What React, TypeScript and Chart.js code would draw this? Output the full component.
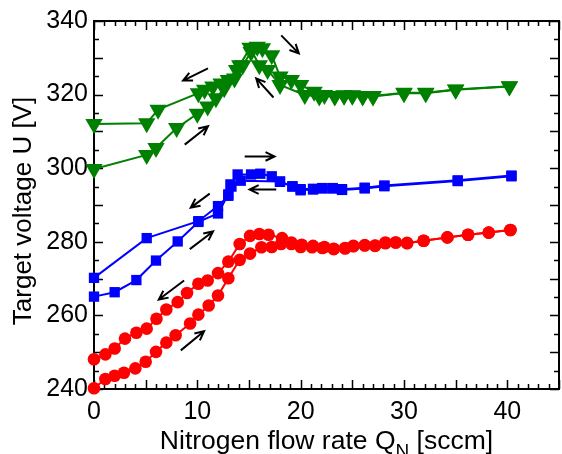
import React, { useEffect, useRef } from "react";
import { Chart, registerables } from "chart.js";
Chart.register(...registerables);

const xTicks = [0, 10, 20, 30, 40];
const yTicks = [240, 260, 280, 300, 320, 340];

const redUpX = [0, 1.1, 2, 2.9, 4, 5, 6, 7, 7.9, 9.3, 10.1, 11.1, 12, 13, 14.1, 15.1, 16.2, 17.2, 18.1, 19.1, 20, 21.1, 22.1, 23.2, 24.3, 25.1, 26.2, 27.2, 28.2, 29.2, 30.3, 31.9, 34.2, 36.2, 38.2, 40.3];
const redUpY = [240.2, 242.7, 243.6, 244.4, 245.6, 247.4, 250.1, 252.6, 254.6, 257.8, 260.2, 262.7, 265.4, 270.1, 275.1, 276.8, 278.5, 278.6, 279.4, 279.4, 278.6, 278.5, 278.3, 278.0, 278.2, 278.9, 279.1, 278.9, 279.8, 279.8, 279.6, 280.3, 281.2, 281.9, 282.5, 283.2];
const redDownX = [40.3, 38.2, 36.2, 34.2, 31.9, 30.3, 29.2, 28.2, 27.2, 26.2, 25.1, 24.3, 23.2, 22.3, 21.2, 20.1, 19.1, 18.2, 16.9, 16.0, 15.1, 14.1, 13.0, 12.0, 11.0, 10.1, 9.0, 8.1, 7.0, 6.05, 5.1, 4.1, 3.0, 2.0, 1.1, 0];
const redDownY = [283.2, 282.5, 281.9, 281.2, 280.3, 279.7, 279.8, 279.6, 279.0, 279.0, 278.8, 278.3, 278.1, 278.6, 278.9, 279.2, 279.8, 281.0, 281.9, 282.1, 281.6, 279.4, 274.6, 271.5, 269.5, 268.6, 266.1, 263.6, 261.6, 259.1, 256.4, 255.3, 253.7, 251.0, 249.4, 248.1];

const blueUpX = [0, 2, 4.1, 6, 8.1, 10.1, 12, 13, 13.2, 13.9, 15.2, 16.1, 17.2, 18, 19.2, 20, 21.2, 22.1, 23.1, 24, 26.2, 28.1, 35.2, 40.4];
const blueUpY = [265.1, 266.3, 269.6, 274.9, 280.1, 285.4, 287.7, 292.9, 295.6, 298.3, 298.3, 298.5, 297.8, 296.3, 295.1, 294.0, 294.2, 294.5, 294.5, 294.1, 294.5, 295.1, 296.5, 297.8];
const blueDownX = [40.4, 35.2, 28.1, 26.2, 24, 23.1, 22.1, 21.2, 20, 19.2, 18, 14.2, 13.3, 13, 12, 10.1, 5.1, 0];
const blueDownY = [298.0, 296.7, 295.3, 294.7, 294.3, 294.6, 294.6, 294.4, 294.3, 295.0, 296.4, 296.6, 295.0, 292.5, 289.7, 285.6, 281.0, 270.2];

const greenUpX = [0, 5.1, 6, 8, 10, 11, 11.8, 12.6, 13.6, 14.4, 15.2, 15.8, 16.3, 17.2, 18, 19.1, 20, 21.3, 22.3, 23.3, 24.2, 25, 26, 27, 30, 32.1, 35, 40.2];
const greenUpY = [299.8, 303.6, 305.5, 310.9, 314.8, 316.8, 319, 321.7, 324.4, 328, 331.6, 333, 332.6, 330.7, 324.9, 324, 322.6, 320.8, 319.9, 319.5, 319.7, 319.7, 319.5, 319.5, 320.4, 320.4, 321.3, 322.2];
const greenDownX = [40.2, 35, 32.1, 30, 27, 26, 25, 24.2, 23.3, 21.8, 20.4, 18, 16.8, 16, 15.1, 14.1, 13.8, 13, 12.3, 11.5, 10.7, 10.1, 6.2, 5.1, 0];
const greenDownY = [322.3, 321.4, 320.5, 320.5, 319.6, 319.6, 319.8, 319.8, 319.6, 319.5, 319.9, 322.6, 326.7, 328, 332.7, 328, 326.7, 324, 323, 322.2, 321.3, 320.4, 315.9, 312.2, 312];

// arrows: [xStart, yStart, xEnd(head), yEnd(head)] in data units
const arrows: number[][] = [
  [11.03, 327.1, 8.62, 323.8],
  [8.78, 306.4, 11.03, 311.4],
  [18.12, 336.1, 19.82, 331.2],
  [17.37, 319.2, 15.7, 324.4],
  [14.58, 303.2, 17.47, 303.2],
  [17.64, 294.2, 15.06, 294.2],
  [11.2, 293.1, 9.36, 289.3],
  [9.27, 278.0, 11.52, 282.8],
  [8.72, 269.5, 6.27, 264.3],
  [8.4, 250.5, 10.65, 255.7],
];

const xTitleMain = "Nitrogen flow rate Q";
const xTitleSub = "N";
const xTitleEnd = " [sccm]";
const yTitle = "Target voltage U [V]";

const FONT = '"Liberation Sans", Arial, sans-serif';

function pts(xs: number[], ys: number[]) {
  return xs.map((x, i) => ({ x, y: ys[i] }));
}

export default function App() {
  const ref = useRef<HTMLCanvasElement>(null);
  useEffect(() => {
    const canvas = ref.current!;
    const frame = {
      id: "frame",
      beforeDatasetsDraw(chart: any) {
        const { ctx, chartArea: a, scales } = chart;
        const xs = scales.x, ys = scales.y;
        ctx.save();
        ctx.strokeStyle = "#000";
        ctx.lineWidth = 1.5;
        ctx.beginPath();
        for (let v = 0; v <= 45; v += 1) {
          const px = Math.round(xs.getPixelForValue(v)) + 0.5;
          const len = v % 5 === 0 ? 9 : 5;
          ctx.moveTo(px, a.bottom); ctx.lineTo(px, a.bottom - len);
          ctx.moveTo(px, a.top); ctx.lineTo(px, a.top + len);
        }
        for (let v = 240; v <= 340; v += 5) {
          const py = Math.round(ys.getPixelForValue(v)) + 0.5;
          const len = (v - 240) % 10 === 0 ? 9 : 5;
          ctx.moveTo(a.left, py); ctx.lineTo(a.left + len, py);
          ctx.moveTo(a.right, py); ctx.lineTo(a.right - len, py);
        }
        ctx.stroke();
        ctx.lineWidth = 2;
        ctx.strokeRect(a.left, a.top, a.right - a.left, a.bottom - a.top);
        ctx.restore();
      },
    };
    const arrowPlugin = {
      id: "arrows",
      afterDatasetsDraw(chart: any) {
        const { ctx, scales } = chart;
        ctx.save();
        ctx.strokeStyle = "#000";
        ctx.lineWidth = 2;
        arrows.forEach(([x1, y1, x2, y2]) => {
          const X1 = scales.x.getPixelForValue(x1), Y1 = scales.y.getPixelForValue(y1);
          const X2 = scales.x.getPixelForValue(x2), Y2 = scales.y.getPixelForValue(y2);
          const ang = Math.atan2(Y2 - Y1, X2 - X1);
          const h = 10, sp = 0.45;
          ctx.beginPath();
          ctx.moveTo(X1, Y1); ctx.lineTo(X2, Y2);
          ctx.moveTo(X2 - h * Math.cos(ang - sp), Y2 - h * Math.sin(ang - sp));
          ctx.lineTo(X2, Y2);
          ctx.lineTo(X2 - h * Math.cos(ang + sp), Y2 - h * Math.sin(ang + sp));
          ctx.stroke();
        });
        ctx.restore();
      },
    };
    const titles = {
      id: "titles",
      afterDraw(chart: any) {
        const { ctx, chartArea: a } = chart;
        ctx.save();
        ctx.fillStyle = "#000";
        ctx.font = `26.5px ${FONT}`;
        ctx.textBaseline = "alphabetic";
        const w1 = ctx.measureText(xTitleMain).width;
        const w3 = ctx.measureText(xTitleEnd).width;
        ctx.font = `19px ${FONT}`;
        const w2 = ctx.measureText(xTitleSub).width;
        const total = w1 + w2 + w3;
        const sx = (a.left + a.right) / 2 - total / 2;
        const base = 449;
        ctx.font = `26.5px ${FONT}`;
        ctx.textAlign = "left";
        ctx.fillText(xTitleMain, sx, base);
        ctx.font = `19px ${FONT}`;
        ctx.fillText(xTitleSub, sx + w1, base + 8);
        ctx.font = `26.5px ${FONT}`;
        ctx.fillText(xTitleEnd, sx + w1 + w2, base);
        ctx.font = `26px ${FONT}`;
        ctx.translate(24, (a.top + a.bottom) / 2 + 6);
        ctx.rotate(-Math.PI / 2);
        ctx.textAlign = "center";
        ctx.textBaseline = "middle";
        ctx.fillText(yTitle, 0, 0);
        ctx.restore();
      },
    };
    const common = { showLine: true, borderWidth: 2, clip: false as any };
    const chart = new Chart(canvas, {
      type: "scatter",
      data: {
        datasets: [
          { ...common, data: pts(redUpX, redUpY), borderColor: "#ff0000", backgroundColor: "#ff0000", pointStyle: "circle", pointRadius: 6.3, pointBorderWidth: 0 },
          { ...common, data: pts(redDownX, redDownY), borderColor: "#ff0000", backgroundColor: "#ff0000", pointStyle: "circle", pointRadius: 6.3, pointBorderWidth: 0 },
          { ...common, data: pts(blueUpX, blueUpY), borderColor: "#0000ff", backgroundColor: "#0000ff", pointStyle: "rect", pointRadius: 7.3, pointBorderWidth: 0 },
          { ...common, data: pts(blueDownX, blueDownY), borderColor: "#0000ff", backgroundColor: "#0000ff", pointStyle: "rect", pointRadius: 7.3, pointBorderWidth: 0 },
          { ...common, data: pts(greenUpX, greenUpY), borderColor: "#008000", backgroundColor: "#008000", pointStyle: "triangle", pointRotation: 180, pointRadius: 10, pointBorderWidth: 0 },
          { ...common, data: pts(greenDownX, greenDownY), borderColor: "#008000", backgroundColor: "#008000", pointStyle: "triangle", pointRotation: 180, pointRadius: 10, pointBorderWidth: 0 },
        ] as any,
      },
      options: {
        responsive: false,
        animation: false,
        layout: { autoPadding: false, padding: { top: 19, right: 3, left: 0, bottom: 0 } },
        plugins: { legend: { display: false }, tooltip: { enabled: false } },
        scales: {
          x: {
            type: "linear", min: 0, max: 45,
            afterFit: (s: any) => { s.height = 65; s.paddingLeft = 0; s.paddingRight = 0; },
            afterBuildTicks: (s: any) => { s.ticks = xTicks.map((v) => ({ value: v })); },
            grid: { display: false, drawTicks: false },
            border: { display: false },
            ticks: { color: "#000", font: { family: FONT, size: 25 }, padding: 8, maxRotation: 0, autoSkip: false },
          },
          y: {
            type: "linear", min: 240, max: 340,
            afterFit: (s: any) => { s.width = 94; },
            afterBuildTicks: (s: any) => { s.ticks = yTicks.map((v) => ({ value: v })); },
            grid: { display: false, drawTicks: false },
            border: { display: false },
            ticks: { color: "#000", font: { family: FONT, size: 25 }, padding: 6, autoSkip: false },
          },
        },
      } as any,
      plugins: [frame, arrowPlugin, titles],
    });
    return () => chart.destroy();
  }, []);
  return (
    <div style={{ position: "fixed", left: 0, top: 0, width: 562, height: 454, background: "#fff" }}>
      <canvas ref={ref} width={562} height={454} style={{ display: "block", width: 562, height: 454 }} />
    </div>
  );
}
